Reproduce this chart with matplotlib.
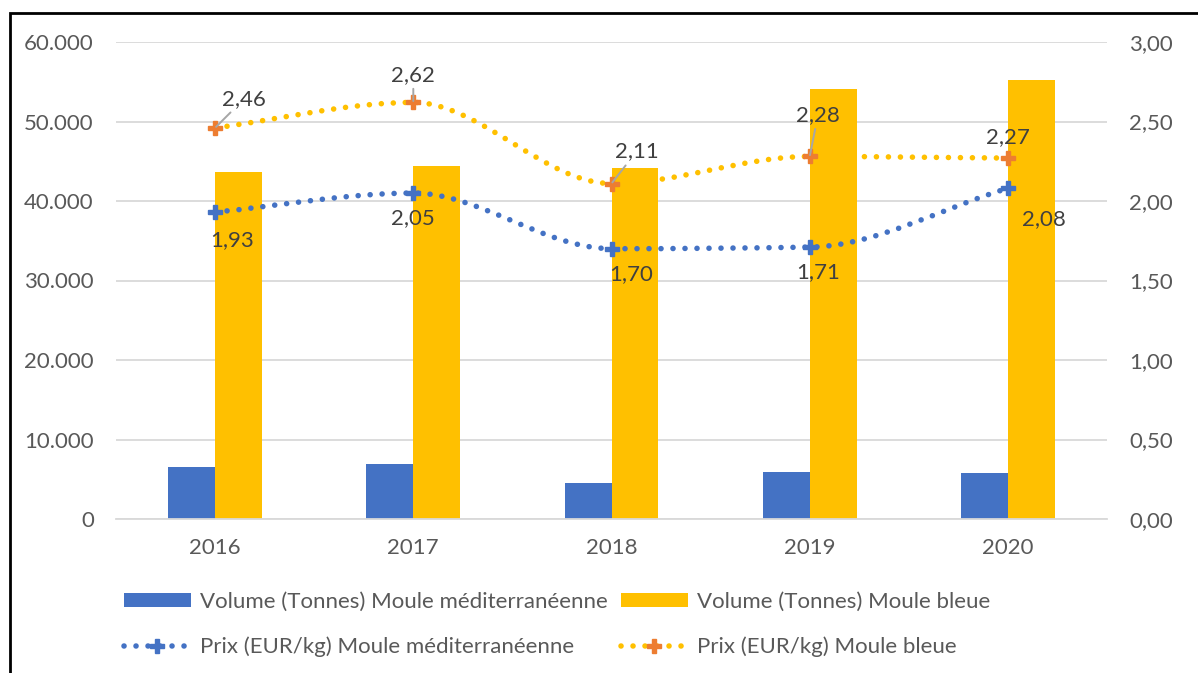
import matplotlib
matplotlib.use("Agg")
import matplotlib.pyplot as plt
import numpy as np
from matplotlib.path import Path
from matplotlib.patches import PathPatch, Rectangle
from matplotlib.lines import Line2D
from matplotlib.ticker import FuncFormatter

plt.rcParams['font.family'] = ['Lato', 'DejaVu Sans']

years = ['2016', '2017', '2018', '2019', '2020']
vol_med = [6550, 6950, 4550, 5950, 5750]
vol_bleue = [43650, 44450, 44150, 54100, 55250]
prix_med = [1.93, 2.05, 1.70, 1.71, 2.08]
prix_bleue = [2.46, 2.62, 2.11, 2.28, 2.27]

BLUE = '#4472C4'
GOLD = '#FFC000'
ORANGE = '#ED7D31'
GRID = '#D9D9D9'
TICK = '#595959'
LABEL = '#404040'
FS = 16

# offsets of the data labels (points) and whether a leader line is drawn
off_med = [(12, -20), (0, -18), (14, -18), (6, -18), (26, -22)]
off_bleue = [(21, 21), (0, 20), (18, 23), (6, 30), (0, 15)]
lead_bleue = [True, True, True, True, False]


def smooth_path(x, y):
    # monotone bezier curve through the points (flat at local peaks, like Excel smoothing)
    x = np.asarray(x, float)
    y = np.asarray(y, float)
    d = np.diff(y) / np.diff(x)
    m = np.zeros_like(y)
    m[0], m[-1] = d[0], d[-1]
    for i in range(1, len(y) - 1):
        if d[i - 1] * d[i] > 0:
            m[i] = 2 / (1 / d[i - 1] + 1 / d[i])
    verts = [(x[0], y[0])]
    codes = [Path.MOVETO]
    for i in range(len(x) - 1):
        h = (x[i + 1] - x[i]) / 3
        verts += [(x[i] + h, y[i] + m[i] * h), (x[i + 1] - h, y[i + 1] - m[i + 1] * h),
                  (x[i + 1], y[i + 1])]
        codes += [Path.CURVE4] * 3
    return Path(verts, codes)


fig = plt.figure(figsize=(11.98, 6.73), dpi=100)
ax = fig.add_axes([116 / 1198, 1 - 519 / 673, 991 / 1198, 477 / 673])
ax2 = ax.twinx()

x = np.arange(len(years))
w = 0.237
ax.bar(x - w / 2, vol_med, w, color=BLUE, zorder=2, label='Volume (Tonnes) Moule méditerranéenne')
ax.bar(x + w / 2, vol_bleue, w, color=GOLD, zorder=2, label='Volume (Tonnes) Moule bleue')

ax.set_xlim(-0.5, len(years) - 0.5)
ax.set_ylim(0, 60000)
ax.set_yticks(np.arange(0, 60001, 10000))
ax.yaxis.set_major_formatter(FuncFormatter(lambda v, p: f'{int(v):,}'.replace(',', '.')))
ax.set_xticks(x)
ax.set_xticklabels(years)
ax.grid(axis='y', color=GRID, lw=1.3, zorder=0)
ax.set_axisbelow(True)
for s in ['top', 'right', 'left']:
    ax.spines[s].set_visible(False)
    ax2.spines[s].set_visible(False)
ax.spines['bottom'].set_color(GRID)
ax.spines['bottom'].set_linewidth(1.3)
ax2.spines['bottom'].set_visible(False)
ax.tick_params(axis='both', length=0, labelsize=FS, colors=TICK)
ax.tick_params(axis='y', pad=16)
ax.tick_params(axis='x', pad=14)

ax2.set_ylim(0, 3)
ax2.set_yticks(np.arange(0, 3.01, 0.5))
ax2.yaxis.set_major_formatter(FuncFormatter(lambda v, p: f'{v:.2f}'.replace('.', ',')))
ax2.tick_params(axis='y', length=0, labelsize=FS, colors=TICK, pad=16)

LW = 4
dots = (0, (0.01, 2.15))
handles = []
for vals, lc, mc, offs, leads in [(prix_med, BLUE, BLUE, off_med, [False] * 5),
                                  (prix_bleue, GOLD, ORANGE, off_bleue, lead_bleue)]:
    ax2.add_patch(PathPatch(smooth_path(x, vals), fill=False, edgecolor=lc, lw=LW,
                            linestyle=dots, capstyle='round', zorder=3))
    ax2.plot(x, vals, linestyle='none', marker='P', ms=10, color=mc, mec=mc, zorder=4)
    for xi, v, off, lead in zip(x, vals, offs, leads):
        ap = dict(arrowstyle='-', color='#A6A6A6', lw=1.4, shrinkA=1, shrinkB=1) if lead else None
        ax2.annotate(f'{v:.2f}'.replace('.', ','), (xi, v), xytext=off, textcoords='offset points',
                     ha='center', va='center', fontsize=FS, color=LABEL, arrowprops=ap, zorder=5)
    handles.append(Line2D([], [], color=lc, lw=LW, linestyle=dots, dash_capstyle='round',
                          marker='P', ms=10, mfc=mc, mec=mc))

bh, bl = ax.get_legend_handles_labels()
leg = fig.legend([bh[0], handles[0], bh[1], handles[1]],
                 [bl[0], 'Prix (EUR/kg) Moule méditerranéenne', bl[1], 'Prix (EUR/kg) Moule bleue'],
                 ncol=2, loc='upper left', bbox_to_anchor=(124 / 1198, 1 - 592 / 673),
                 frameon=False, fontsize=FS, handlelength=3.0, handleheight=0.6,
                 handletextpad=0.4, columnspacing=0.62, labelspacing=1.1, borderpad=0,
                 borderaxespad=0, numpoints=1)
for t in leg.get_texts():
    t.set_color(TICK)

# outer chart frame (only left and top edges fall inside the picture)
fig.add_artist(Rectangle((10 / 1198, -0.2), 1.5, 1.2 - 13 / 673, transform=fig.transFigure,
                         fill=False, edgecolor='black', lw=2))

fig.savefig('out.png', dpi=100)
